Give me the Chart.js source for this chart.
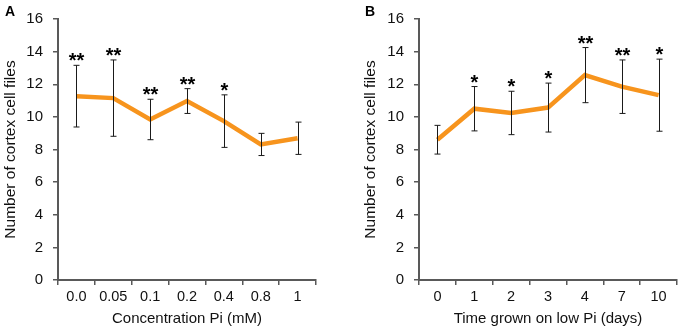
<!DOCTYPE html>
<html>
<head>
<meta charset="utf-8">
<script src="https://cdn.jsdelivr.net/npm/chart.js@4"></script>
<style>
    body { margin: 0; background: #fff; }
    .panel { position: absolute; top: 0; width: 340px; height: 331px; }
    .panel-letter { position: absolute; top: 3px; font: bold 14px "Liberation Sans", Arial, sans-serif; color: #000; }
</style>
</head>
<body>
<div class="panel" style="left:0"><canvas id="chart-a" width="340" height="331"></canvas></div>
<div class="panel" style="left:340px"><canvas id="chart-b" width="340" height="331"></canvas></div>
<div class="panel-letter" style="left:5px">A</div>
<div class="panel-letter" style="left:365px">B</div>
<script>
const concLabels = ['0.0', '0.05', '0.1', '0.2', '0.4', '0.8', '1']
const concMeans = [11.27, 11.15, 9.84, 10.97, 9.74, 8.31, 8.69]
const concSd = [1.89, 2.34, 1.24, 0.76, 1.61, 0.68, 0.99]
const concStars = ['**', '**', '**', '**', '*', '', '']

const timeLabels = ['0', '1', '2', '3', '4', '7', '10']
const timeMeans = [8.6, 10.5, 10.24, 10.57, 12.56, 11.85, 11.33]
const timeSd = [0.88, 1.36, 1.33, 1.5, 1.69, 1.64, 2.21]
const timeStars = ['', '*', '*', '*', '**', '**', '*']

const yTicks = [0, 2, 4, 6, 8, 10, 12, 14, 16]

const fontFamily = '"Liberation Sans", Arial, sans-serif'
const axisColor = '#595959'
const lineColor = '#F7941D'

// error bars + significance stars, drawn over the line
const errorBarPlugin = {
    id: 'errorBars',
    afterDatasetsDraw(chart, args, opts) {
        const ctx = chart.ctx
        const meta = chart.getDatasetMeta(0)
        const yScale = chart.scales.y
        ctx.save()
        ctx.strokeStyle = '#1a1a1a'
        ctx.lineWidth = 1
        meta.data.forEach((pt, i) => {
            const x = Math.round(pt.x) + 0.5
            const top = yScale.getPixelForValue(opts.means[i] + opts.sd[i])
            const bottom = yScale.getPixelForValue(opts.means[i] - opts.sd[i])
            ctx.beginPath()
            ctx.moveTo(x, top)
            ctx.lineTo(x, bottom)
            ctx.moveTo(x - 3, top)
            ctx.lineTo(x + 3, top)
            ctx.moveTo(x - 3, bottom)
            ctx.lineTo(x + 3, bottom)
            ctx.stroke()
            if (opts.stars[i]) {
                ctx.fillStyle = '#000'
                ctx.font = 'bold 20px ' + fontFamily
                ctx.textAlign = 'center'
                ctx.textBaseline = 'alphabetic'
                ctx.fillText(opts.stars[i], x, top + 2)
            }
        })
        ctx.restore()
    }
}

function makeConfig(labels, means, sd, stars, xTitle, yWidth, yTitlePad, rightPad) {
    return {
        type: 'line',
        data: {
            labels: labels,
            datasets: [{
                data: means,
                borderColor: lineColor,
                borderWidth: 4.5,
                tension: 0,
                fill: false,
                pointRadius: 0
            }]
        },
        options: {
            responsive: false,
            animation: false,
            layout: {
                padding: { top: 12, right: rightPad, bottom: 0, left: 0 }
            },
            plugins: {
                legend: { display: false },
                tooltip: { enabled: false },
                errorBars: { means: means, sd: sd, stars: stars }
            },
            scales: {
                x: {
                    type: 'category',
                    offset: true,
                    afterFit(scale) { scale.height = 51 },
                    grid: {
                        offset: true,
                        drawOnChartArea: false,
                        drawTicks: true,
                        tickLength: 5,
                        color: axisColor,
                        lineWidth: 1.5
                    },
                    border: { display: true, color: axisColor, width: 2 },
                    ticks: {
                        color: '#111',
                        padding: 3,
                        maxRotation: 0,
                        autoSkip: false,
                        font: { family: fontFamily, size: 14.5 }
                    },
                    title: {
                        display: true,
                        text: xTitle,
                        color: '#111',
                        padding: { top: 0, bottom: 3 },
                        font: { family: fontFamily, size: 15 }
                    }
                },
                y: {
                    min: 0,
                    max: 16,
                    afterFit(scale) { scale.width = yWidth },
                    afterBuildTicks(scale) { scale.ticks = yTicks.map(v => ({ value: v })) },
                    grid: {
                        drawOnChartArea: false,
                        drawTicks: true,
                        tickLength: 5,
                        color: axisColor,
                        lineWidth: 1.5
                    },
                    border: { display: true, color: axisColor, width: 2 },
                    ticks: {
                        color: '#111',
                        padding: 10,
                        font: { family: fontFamily, size: 15 }
                    },
                    title: {
                        display: true,
                        text: 'Number of cortex cell files',
                        color: '#111',
                        padding: { top: yTitlePad, bottom: 0 },
                        font: { family: fontFamily, size: 15.5 }
                    }
                }
            }
        },
        plugins: [errorBarPlugin]
    }
}

new Chart(document.getElementById('chart-a'),
    makeConfig(concLabels, concMeans, concSd, concStars, 'Concentration Pi (mM)', 58, 1, 24))
new Chart(document.getElementById('chart-b'),
    makeConfig(timeLabels, timeMeans, timeSd, timeStars, 'Time grown on low Pi (days)', 79, 21, 3))
</script>
</body>
</html>
